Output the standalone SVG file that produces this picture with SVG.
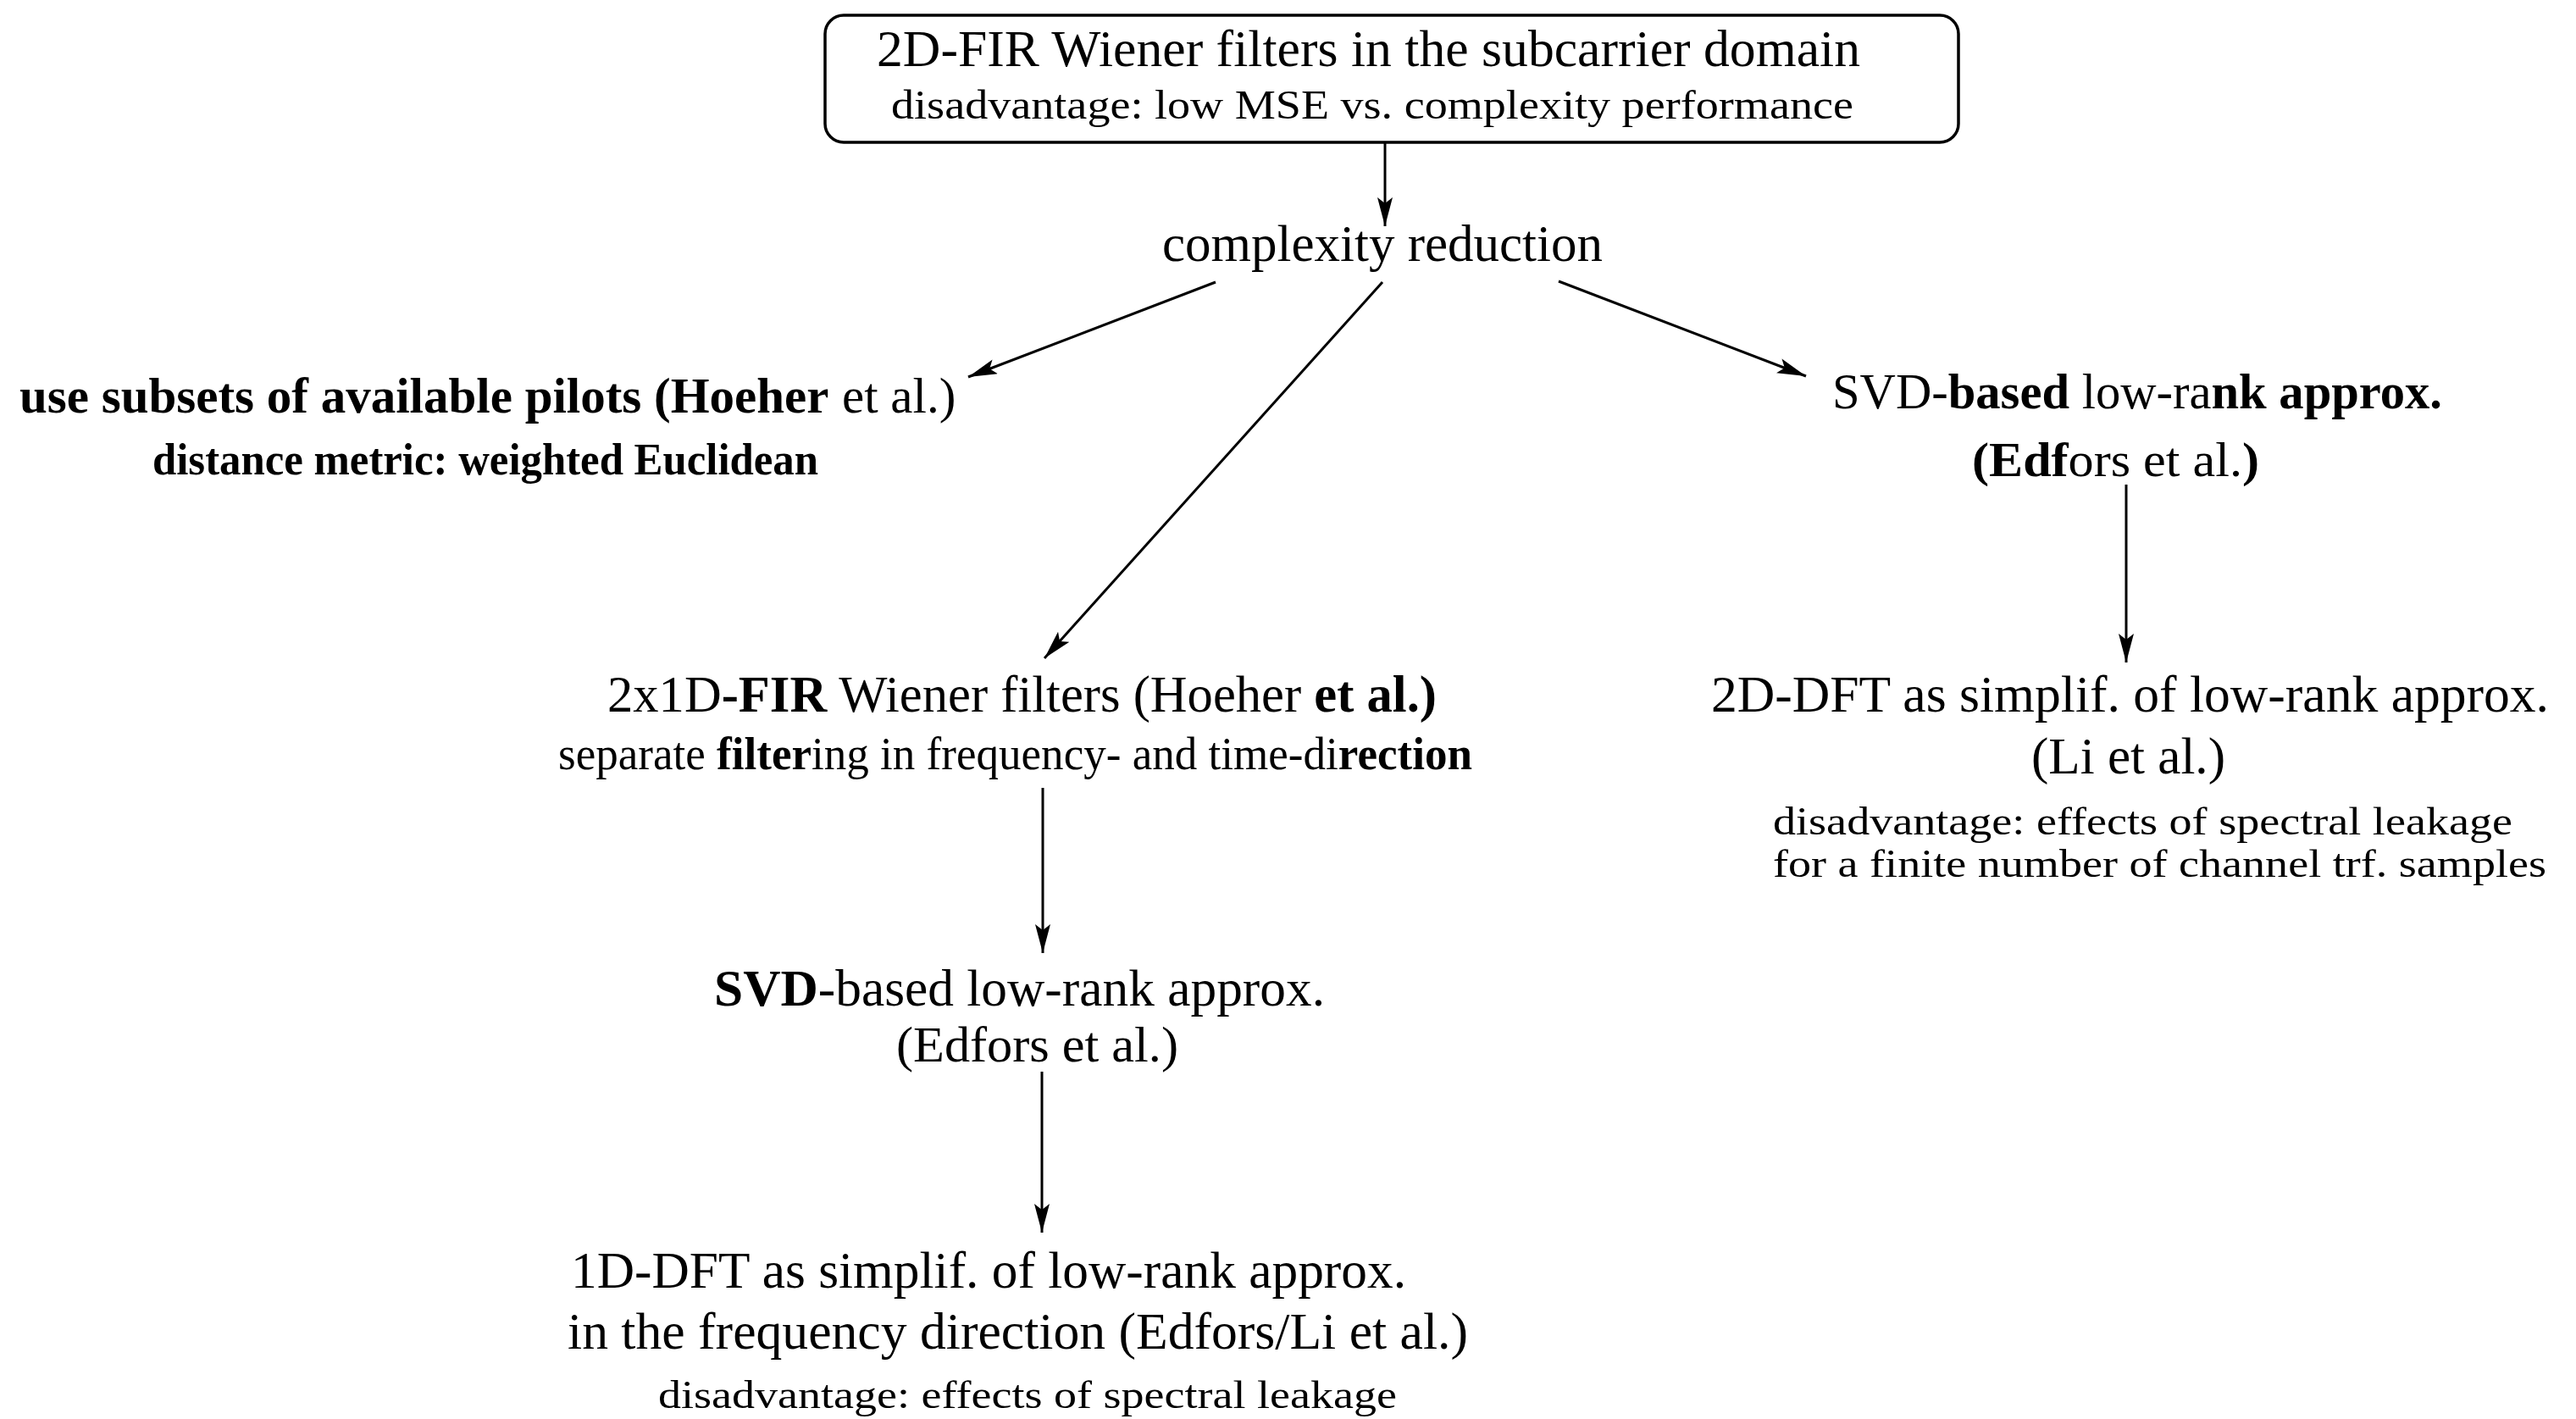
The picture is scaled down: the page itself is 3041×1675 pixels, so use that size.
<svg xmlns="http://www.w3.org/2000/svg" width="3041" height="1675" viewBox="0 0 3041 1675">
  <style>
    text { font-family: "Liberation Serif", "Times New Roman", serif; fill: #000; }
    .b { font-weight: bold; }
    .conn { stroke: #000; stroke-width: 3; fill: none; marker-end: url(#arrow); }
    .frame { fill: #fff; stroke: #000; stroke-width: 3.5; }
  </style>
  <defs>
    <marker id="arrow" markerUnits="userSpaceOnUse" markerWidth="36" markerHeight="20" refX="34" refY="9" orient="auto">
      <path d="M0,0 L34,9 L0,18 L7,9 z" fill="#000"/>
    </marker>
  </defs>
  <rect width="3041" height="1675" fill="#fff"/>

  <!-- connectors -->
  <g id="connectors">
    <line class="conn" x1="1635" y1="169" x2="1635" y2="267"/>
    <line class="conn" x1="1435" y1="333" x2="1143" y2="445"/>
    <line class="conn" x1="1632" y1="333" x2="1233" y2="777"/>
    <line class="conn" x1="1840" y1="332" x2="2132" y2="444"/>
    <line class="conn" x1="2510" y1="572" x2="2510" y2="782"/>
    <line class="conn" x1="1231" y1="930" x2="1231" y2="1125"/>
    <line class="conn" x1="1230" y1="1265" x2="1230" y2="1455"/>
  </g>

  <!-- root: 2D-FIR filters -->
  <g id="root">
    <rect class="frame" x="974" y="18" width="1338" height="150" rx="22"/>
    <text x="1035" y="78" font-size="61" textLength="1161" lengthAdjust="spacingAndGlyphs">2D-FIR Wiener filters in the subcarrier domain</text>
    <text x="1052" y="140" font-size="48" textLength="1136" lengthAdjust="spacingAndGlyphs">disadvantage: low MSE vs. complexity performance</text>
  </g>

  <g id="complexity-reduction">
    <text x="1372" y="308" font-size="61" textLength="520" lengthAdjust="spacingAndGlyphs">complexity reduction</text>
  </g>

  <g id="pilot-subsets">
    <text class="b" x="23" y="487" font-size="59">use subsets of available pilots (Hoeher</text>
    <text x="994" y="487" font-size="59">et al.)</text>
    <text class="b" x="180" y="560" font-size="52" textLength="786" lengthAdjust="spacingAndGlyphs">distance metric: weighted Euclidean</text>
  </g>

  <g id="svd-2d">
    <text x="2163" y="482" font-size="59" textLength="720" lengthAdjust="spacingAndGlyphs">SVD-<tspan class="b">based</tspan> low-ra<tspan class="b">nk approx.</tspan></text>
    <text x="2328" y="562" font-size="58" textLength="339" lengthAdjust="spacingAndGlyphs"><tspan class="b">(Edf</tspan>ors et al.<tspan class="b">)</tspan></text>
  </g>

  <g id="dft-2d">
    <text x="2020" y="840" font-size="61" textLength="989" lengthAdjust="spacingAndGlyphs">2D-DFT as simplif. of low-rank approx.</text>
    <text x="2398" y="913" font-size="61" textLength="229" lengthAdjust="spacingAndGlyphs">(Li et al.)</text>
    <text x="2093" y="985" font-size="47" textLength="873" lengthAdjust="spacingAndGlyphs">disadvantage: effects of spectral leakage</text>
    <text x="2093" y="1035" font-size="47" textLength="913" lengthAdjust="spacingAndGlyphs">for a finite number of channel trf. samples</text>
  </g>

  <g id="fir-2x1d">
    <text x="717" y="840" font-size="61" textLength="979" lengthAdjust="spacingAndGlyphs">2x1D<tspan class="b">-FIR</tspan> Wiener filters (Hoeher <tspan class="b">et al.)</tspan></text>
    <text x="659" y="908" font-size="54" textLength="1079" lengthAdjust="spacingAndGlyphs">separate <tspan class="b">filter</tspan>ing in frequency- and time-di<tspan class="b">rection</tspan></text>
  </g>

  <g id="svd-1d">
    <text x="843" y="1187" font-size="61" textLength="721" lengthAdjust="spacingAndGlyphs"><tspan class="b">SVD</tspan>-based low-rank approx.</text>
    <text x="1058" y="1253" font-size="60" textLength="333" lengthAdjust="spacingAndGlyphs">(Edfors et al.)</text>
  </g>

  <g id="dft-1d">
    <text x="674" y="1520" font-size="61" textLength="986" lengthAdjust="spacingAndGlyphs">1D-DFT as simplif. of low-rank approx.</text>
    <text x="670" y="1592" font-size="61" textLength="1063" lengthAdjust="spacingAndGlyphs">in the frequency direction (Edfors/Li et al.)</text>
    <text x="777" y="1662" font-size="47" textLength="872" lengthAdjust="spacingAndGlyphs">disadvantage: effects of spectral leakage</text>
  </g>
</svg>
